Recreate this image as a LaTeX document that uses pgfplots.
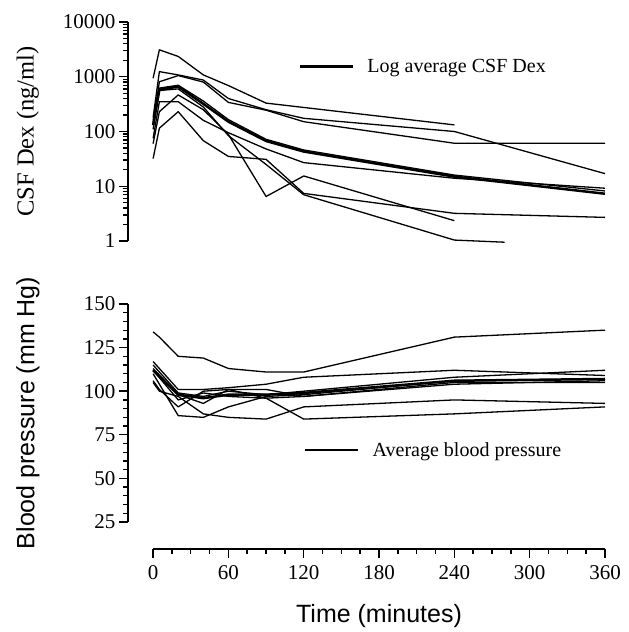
\documentclass[border=0pt]{standalone}
\usepackage{fontspec}
\setmainfont{Liberation Serif}
\newfontfamily\arialfont{Liberation Sans}
\usepackage{pgfplots}
\pgfplotsset{compat=1.18}

\pgfplotsset{
  thin line/.style={black, line width=1.3pt, line join=round, forget plot},
  mean line/.style={black, line width=2.5pt, line join=round},
  % short ticks on the y axis line (the axis line sits at x=-20)
  small ticks/.style={black, line width=1.3pt, unbounded coords=jump, forget plot},
  common/.style={
    scale only axis, clip=false,
    xmin=-20, xmax=360, width=477pt,
    axis x line*=bottom, axis y line*=left,
    x axis line style={draw=none}, xtick=\empty,
    y axis line style={-, line width=1.4pt},
    tick align=outside,
    major tick length=9pt,
    every tick/.style={black, line width=1.4pt},
    tick label style={font=\fontsize{21}{24}\selectfont},
    /pgf/number format/assume math mode=true,
    ylabel style={at={(axis description cs:-0.21,0.5)}, anchor=center, rotate=0},
    legend image code/.code={\draw[line width=2.5pt] (0pt,0pt) -- (53pt,0pt); \path (65pt,0pt);},
    legend style={draw=none, fill=none, inner sep=0pt,
      font=\fontsize{20}{23}\selectfont,
      nodes={inner xsep=1pt, inner ysep=1pt}},
  },
}

\begin{document}
\begin{tikzpicture}
\useasboundingbox (0,0) rectangle (629pt,632pt);

% CSF dexmedetomidine, log scale
\begin{axis}[common,
    at={(128pt,391pt)}, anchor=south west, height=219pt,
    ymode=log, ymin=1, ymax=10000,
    ytick={1,10,100,1000,10000},
    yticklabels={1,10,100,1000,10000},
    ylabel={\fontsize{24.5}{28}\selectfont CSF Dex (ng/ml)},
    legend style={at={(0.358,0.796)}, anchor=west},
]
\addplot[small ticks] coordinates {
  (-24,2) (-20,2) (nan,nan) (-24,3) (-20,3) (nan,nan) (-24,4) (-20,4) (nan,nan)
  (-24,5) (-20,5) (nan,nan) (-24,6) (-20,6) (nan,nan) (-24,7) (-20,7) (nan,nan)
  (-24,8) (-20,8) (nan,nan) (-24,9) (-20,9) (nan,nan)
  (-24,20) (-20,20) (nan,nan) (-24,30) (-20,30) (nan,nan) (-24,40) (-20,40) (nan,nan)
  (-24,50) (-20,50) (nan,nan) (-24,60) (-20,60) (nan,nan) (-24,70) (-20,70) (nan,nan)
  (-24,80) (-20,80) (nan,nan) (-24,90) (-20,90) (nan,nan)
  (-24,200) (-20,200) (nan,nan) (-24,300) (-20,300) (nan,nan) (-24,400) (-20,400) (nan,nan)
  (-24,500) (-20,500) (nan,nan) (-24,600) (-20,600) (nan,nan) (-24,700) (-20,700) (nan,nan)
  (-24,800) (-20,800) (nan,nan) (-24,900) (-20,900) (nan,nan)
  (-24,2000) (-20,2000) (nan,nan) (-24,3000) (-20,3000) (nan,nan) (-24,4000) (-20,4000) (nan,nan)
  (-24,5000) (-20,5000) (nan,nan) (-24,6000) (-20,6000) (nan,nan) (-24,7000) (-20,7000) (nan,nan)
  (-24,8000) (-20,8000) (nan,nan) (-24,9000) (-20,9000)};
\addplot[thin line] coordinates {(0,940) (5,3100) (20,2350) (40,1080) (60,690) (90,330) (240,132)};
\addplot[thin line] coordinates {(0,180) (5,1240) (20,1080) (40,870) (60,400) (90,250) (120,174) (240,100) (360,17)};
\addplot[thin line] coordinates {(0,140) (5,810) (20,1050) (40,800) (60,340) (90,245) (120,151) (240,61) (360,61)};
\addplot[thin line] coordinates {(0,160) (5,620) (20,700) (40,360) (60,165) (90,72) (120,46) (240,16) (360,8.2)};
\addplot[thin line] coordinates {(0,110) (5,560) (20,600) (40,280) (60,84) (90,25) (120,7) (240,1.04) (280,0.95)};
\addplot[thin line] coordinates {(0,75) (5,350) (20,350) (40,160) (60,95) (90,48) (120,27) (240,14) (360,9.2)};
\addplot[thin line] coordinates {(0,60) (5,230) (20,465) (40,250) (60,88) (90,6.5) (120,15.4) (240,2.35)};
\addplot[thin line] coordinates {(0,32) (5,115) (20,230) (40,68) (60,35) (90,31) (120,7.4) (240,3.2) (360,2.7)};
\addplot[mean line] coordinates {(0,130) (5,580) (20,660) (40,320) (60,151) (90,67) (120,43) (240,15) (360,7.3)};
\addlegendentry{Log average CSF Dex}
\end{axis}

% blood pressure
\begin{axis}[common,
    at={(128pt,110pt)}, anchor=south west, height=218pt,
    ymin=25, ymax=150,
    ytick={25,50,75,100,125,150},
    ylabel={\arialfont\fontsize{25}{28}\selectfont Blood pressure (mm Hg)},
    legend style={at={(0.369,0.33)}, anchor=west},
]
\addplot[small ticks] coordinates {
  (-24,30) (-20,30) (nan,nan) (-24,35) (-20,35) (nan,nan) (-24,40) (-20,40) (nan,nan)
  (-24,45) (-20,45) (nan,nan) (-24,55) (-20,55) (nan,nan) (-24,60) (-20,60) (nan,nan)
  (-24,65) (-20,65) (nan,nan) (-24,70) (-20,70) (nan,nan) (-24,80) (-20,80) (nan,nan)
  (-24,85) (-20,85) (nan,nan) (-24,90) (-20,90) (nan,nan) (-24,95) (-20,95) (nan,nan)
  (-24,105) (-20,105) (nan,nan) (-24,110) (-20,110) (nan,nan) (-24,115) (-20,115) (nan,nan)
  (-24,120) (-20,120) (nan,nan) (-24,130) (-20,130) (nan,nan) (-24,135) (-20,135) (nan,nan)
  (-24,140) (-20,140) (nan,nan) (-24,145) (-20,145)};
\addplot[thin line] coordinates {(0,134) (5,131) (20,120) (40,119) (60,113) (90,111) (120,111) (240,131) (360,135)};
\addplot[thin line] coordinates {(0,117) (20,101) (40,101) (60,102) (90,104) (120,108) (240,112) (360,109)};
\addplot[thin line] coordinates {(0,115) (20,99) (40,97) (60,100) (90,98) (120,100) (240,108) (360,112)};
\addplot[thin line] coordinates {(0,113) (20,98) (40,93) (60,101) (90,101) (120,97) (240,104) (360,106)};
\addplot[thin line] coordinates {(0,110) (20,86) (40,85) (60,91) (90,97) (120,98) (240,106) (360,107)};
\addplot[thin line] coordinates {(0,106) (5,101) (20,91) (40,100) (60,101) (90,96) (120,84) (240,87) (360,91)};
\addplot[thin line] coordinates {(0,105) (5,100) (20,97) (40,87) (60,85) (90,84) (120,91) (240,95) (360,93)};
\addplot[thin line] coordinates {(0,112) (20,95) (40,99) (60,97) (90,96) (120,97) (240,105) (360,105)};
\addplot[mean line] coordinates {(0,112) (20,98) (40,96) (60,98) (90,98) (120,99) (240,106) (360,107)};
\addlegendentry{Average blood pressure}
\end{axis}

% shared time axis
\begin{axis}[
    scale only axis, at={(153pt,83pt)}, anchor=south west,
    width=452pt, height=1pt,
    xmin=0, xmax=360, ymin=0, ymax=1,
    axis x line=bottom, axis y line=none,
    axis line style={-, line width=1.4pt},
    tick align=outside,
    major tick length=9pt, minor tick length=5pt,
    every tick/.style={black, line width=1.4pt},
    xtick={0,60,120,180,240,300,360},
    minor x tick num=3,
    tick label style={font=\fontsize{21}{24}\selectfont},
    xticklabel style={yshift=-4pt},
    /pgf/number format/assume math mode=true,
    xlabel={\arialfont\fontsize{25}{28}\selectfont Time (minutes)},
    xlabel style={at={(axis description cs:0.5,0)}, anchor=center, yshift=-67pt},
]
\end{axis}
\end{tikzpicture}
\end{document}
